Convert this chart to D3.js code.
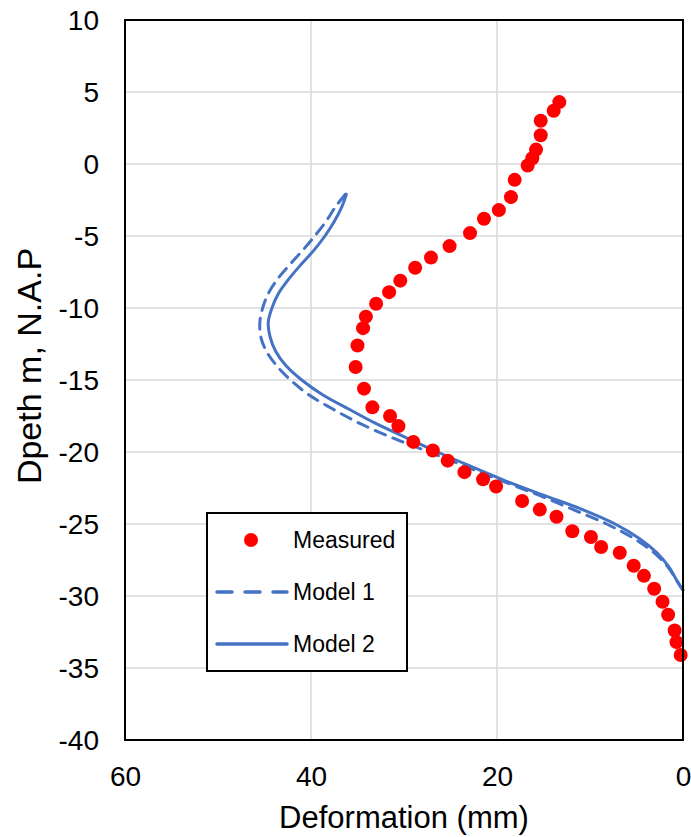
<!DOCTYPE html>
<html>
<head>
<meta charset="utf-8">
<script src="https://cdn.jsdelivr.net/npm/d3@7"></script>
<style>
  html, body { margin: 0; padding: 0; background: #fff; }
  svg { display: block; font-family: "Liberation Sans", Arial, sans-serif; }
</style>
</head>
<body>
<svg id="chart" width="691" height="837"></svg>
<script>
// Measured lateral deformation (mm) against depth (m, N.A.P)
const measuredDeformation = [13.3, 13.9, 15.3, 15.3, 15.8, 16.2, 16.7, 18.1, 18.5, 19.8, 21.4, 22.9, 25.1, 27.1, 28.8, 30.4, 31.6, 33.0, 34.1, 34.4, 35.0, 35.2, 34.3, 33.4, 31.5, 30.6, 29.0, 26.9, 25.3, 23.5, 21.5, 20.1, 17.3, 15.4, 13.6, 11.9, 9.9, 8.8, 6.8, 5.3, 4.2, 3.1, 2.2, 1.6, 0.9, 0.7, 0.25];
const measuredDepth = [4.3, 3.7, 3.0, 2.0, 1.0, 0.4, -0.1, -1.1, -2.3, -3.2, -3.8, -4.8, -5.7, -6.5, -7.2, -8.1, -8.9, -9.7, -10.6, -11.4, -12.6, -14.1, -15.6, -16.9, -17.5, -18.2, -19.3, -19.9, -20.6, -21.4, -21.9, -22.4, -23.4, -24.0, -24.5, -25.5, -25.9, -26.6, -27.0, -27.9, -28.6, -29.5, -30.4, -31.3, -32.4, -33.2, -34.1];

// Model predictions, sampled along depth
const modelDepth = [-2.1, -3, -4, -5, -6, -7, -8, -9, -10, -11, -12, -13, -14, -15, -16, -17, -18, -19, -20, -21, -22, -23, -24, -25, -26, -27, -28, -29, -29.6];
const model1Deformation = [36.3, 37.4, 38.4, 39.6, 40.9, 42.3, 43.6, 44.6, 45.2, 45.5, 45.4, 44.8, 43.7, 42.2, 40.3, 37.7, 34.8, 31.3, 27.3, 23.4, 19.5, 15.5, 11.8, 8.2, 5.3, 3.1, 1.6, 0.6, 0.0];
const model2Deformation = [36.2, 36.7, 37.5, 38.5, 39.7, 41.1, 42.4, 43.5, 44.2, 44.6, 44.4, 43.8, 42.7, 41.0, 38.8, 36.0, 33.1, 29.8, 26.4, 22.8, 19.1, 15.0, 10.8, 7.3, 4.7, 2.8, 1.5, 0.6, 0.0];

// Axis ticks
const xTicks = [60, 40, 20, 0];
const yTicks = [10, 5, 0, -5, -10, -15, -20, -25, -30, -35, -40];

const seriesNames = ["Measured", "Model 1", "Model 2"];
const xTitle = "Deformation (mm)";
const yTitle = "Dpeth m, N.A.P";

const svg = d3.select("#chart");
const plot = { left: 125, top: 20, right: 683, bottom: 740 };
const blue = "#4472C4";
const fmt = d => String(d); // plain hyphen-minus for negatives

// Deformation axis runs from 60 on the left to 0 on the right
const x = d3.scaleLinear().domain([60, 0]).range([plot.left, plot.right]);
const y = d3.scaleLinear().domain([10, -40]).range([plot.top, plot.bottom]);

// Gridlines
const grid = svg.append("g");
grid.selectAll("line.h").data(yTicks.filter(d => d < 10 && d > -40)).join("line")
  .attr("x1", plot.left).attr("x2", plot.right)
  .attr("y1", d => y(d)).attr("y2", d => y(d))
  .attr("stroke", "#d9d9d9").attr("stroke-width", 1.5);
grid.selectAll("line.v").data(xTicks.filter(d => d < 60 && d > 0)).join("line")
  .attr("y1", plot.top).attr("y2", plot.bottom)
  .attr("x1", d => x(d)).attr("x2", d => x(d))
  .attr("stroke", "#d9d9d9").attr("stroke-width", 1.5);

// Axes (labels only; the frame is drawn separately)
const xAxis = d3.axisBottom(x).tickValues(xTicks).tickSize(0).tickPadding(0).tickFormat(fmt);
const yAxis = d3.axisLeft(y).tickValues(yTicks).tickSize(0).tickPadding(0).tickFormat(fmt);

const gx = svg.append("g").attr("transform", `translate(0,${plot.bottom})`).call(xAxis);
gx.select(".domain").remove();
gx.selectAll("text").attr("dy", null).attr("y", 46)
  .attr("font-size", 28).attr("font-family", "Liberation Sans, Arial, sans-serif").attr("fill", "#000");

const gy = svg.append("g").attr("transform", `translate(${plot.left},0)`).call(yAxis);
gy.select(".domain").remove();
gy.selectAll("text").attr("x", -26).attr("dy", "0.35em")
  .attr("font-size", 28).attr("font-family", "Liberation Sans, Arial, sans-serif").attr("fill", "#000");

// Model curves
const modelLine = d3.line()
  .x(d => x(d[0])).y(d => y(d[1]))
  .curve(d3.curveCatmullRom.alpha(0.5));

const model1 = model1Deformation.map((v, i) => [v, modelDepth[i]]);
const model2 = model2Deformation.map((v, i) => [v, modelDepth[i]]);

svg.append("path").attr("d", modelLine(model1))
  .attr("fill", "none").attr("stroke", blue).attr("stroke-width", 3)
  .attr("stroke-dasharray", "11,8").attr("stroke-linecap", "round");
svg.append("path").attr("d", modelLine(model2))
  .attr("fill", "none").attr("stroke", blue).attr("stroke-width", 3)
  .attr("stroke-linecap", "round");

// Measured points
const measured = measuredDeformation.map((v, i) => [v, measuredDepth[i]]);
svg.append("g").selectAll("circle").data(measured).join("circle")
  .attr("cx", d => x(d[0])).attr("cy", d => y(d[1])).attr("r", 7)
  .attr("fill", "#ff0000");

// Plot frame
svg.append("rect")
  .attr("x", plot.left).attr("y", plot.top)
  .attr("width", plot.right - plot.left).attr("height", plot.bottom - plot.top)
  .attr("fill", "none").attr("stroke", "#000").attr("stroke-width", 2);

// Axis titles
svg.append("text").attr("x", (plot.left + plot.right) / 2).attr("y", 828)
  .attr("text-anchor", "middle").attr("font-size", 31).attr("fill", "#000")
  .text(xTitle);
svg.append("text").attr("transform", "translate(41,366) rotate(-90)")
  .attr("text-anchor", "middle").attr("font-size", 34).attr("fill", "#000")
  .text(yTitle);

// Legend
const legend = svg.append("g").attr("transform", "translate(207,513)");
legend.append("rect").attr("width", 200).attr("height", 158)
  .attr("fill", "#fff").attr("stroke", "#000").attr("stroke-width", 2);
const rows = [27, 79, 131];
legend.append("circle").attr("cx", 44).attr("cy", rows[0]).attr("r", 7).attr("fill", "#ff0000");
legend.append("line").attr("x1", 10).attr("x2", 80).attr("y1", rows[1]).attr("y2", rows[1])
  .attr("stroke", blue).attr("stroke-width", 3.5).attr("stroke-dasharray", "15,13").attr("stroke-linecap", "round");
legend.append("line").attr("x1", 10).attr("x2", 80).attr("y1", rows[2]).attr("y2", rows[2])
  .attr("stroke", blue).attr("stroke-width", 3.5).attr("stroke-linecap", "round");
legend.selectAll("text.lbl").data(seriesNames).join("text")
  .attr("x", 86).attr("y", (d, i) => rows[i]).attr("dy", "0.36em")
  .attr("font-size", 23).attr("fill", "#000").text(d => d);
</script>
</body>
</html>
